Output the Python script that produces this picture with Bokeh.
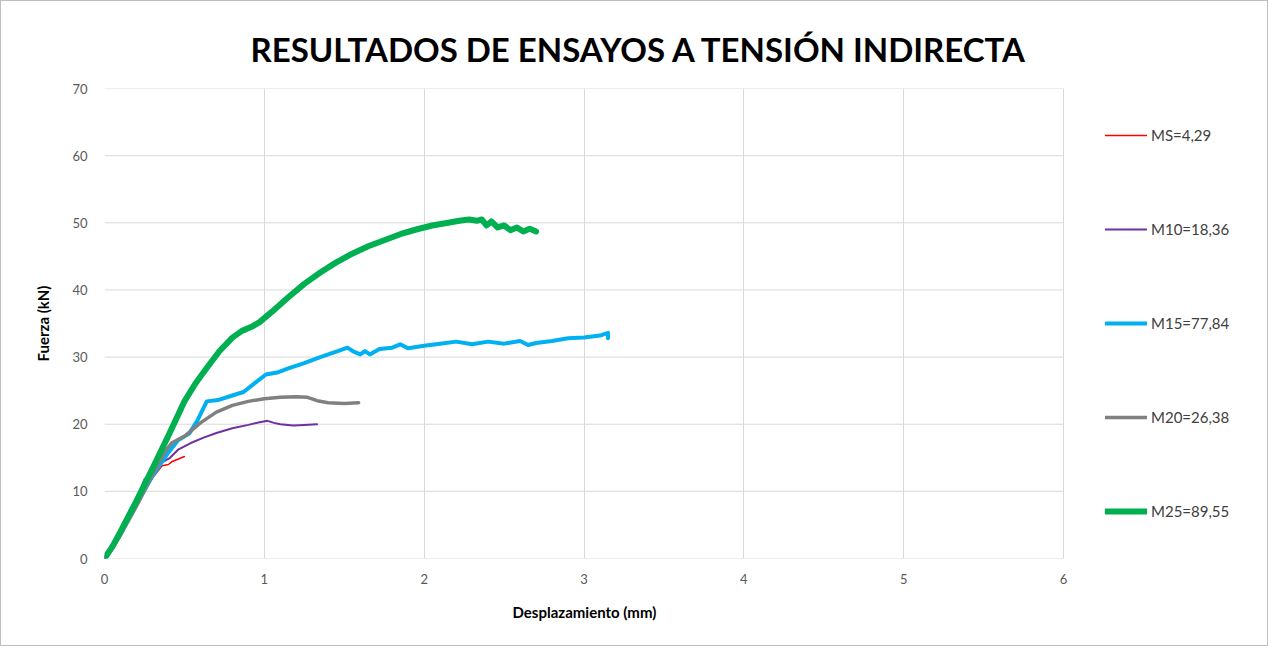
from bokeh.plotting import figure
from bokeh.models import Legend, LegendItem, FixedTicker, Title
from bokeh.embed import file_html
from bokeh.resources import INLINE

title_text = "RESULTADOS DE ENSAYOS A TENSIÓN INDIRECTA"
x_label = "Desplazamiento (mm)"
y_label = "Fuerza (kN)"
x_ticks = [0, 1, 2, 3, 4, 5, 6]
y_ticks = [0, 10, 20, 30, 40, 50, 60, 70]

series_names = ["MS=4,29", "M10=18,36", "M15=77,84", "M20=26,38", "M25=89,55"]

ms_x = [0, 0.05, 0.1, 0.2, 0.3, 0.36, 0.40, 0.42, 0.44, 0.47, 0.50]
ms_y = [0, 1.6, 3.6, 7.9, 12.0, 13.8, 14.0, 14.4, 14.6, 14.9, 15.2]

m10_x = [0, 0.05, 0.1, 0.2, 0.25, 0.3, 0.36, 0.41, 0.46, 0.54, 0.62, 0.7, 0.8, 0.9, 0.97, 1.02, 1.06, 1.1, 1.18, 1.25, 1.33]
m10_y = [0, 1.7, 3.8, 8.6, 11.8, 12.8, 14.3, 15.0, 16.2, 17.2, 18.0, 18.7, 19.4, 19.9, 20.3, 20.5, 20.2, 20.0, 19.8, 19.9, 20.0]

m15_x = [0, 0.05, 0.1, 0.2, 0.3, 0.4, 0.46, 0.53, 0.58, 0.64, 0.71, 0.79, 0.87, 0.95, 1.01, 1.08, 1.15, 1.25, 1.35,
         1.45, 1.52, 1.56, 1.60, 1.63, 1.66, 1.72, 1.80, 1.85, 1.90, 2.0, 2.1, 2.2, 2.3, 2.4, 2.5, 2.6, 2.65, 2.7,
         2.8, 2.9, 3.0, 3.1, 3.15, 3.15]
m15_y = [0, 1.6, 3.6, 8.0, 12.3, 15.8, 17.6, 18.6, 20.5, 23.4, 23.6, 24.2, 24.8, 26.3, 27.4, 27.7, 28.3, 29.1, 30.0,
         30.8, 31.4, 30.8, 30.4, 30.9, 30.4, 31.2, 31.4, 31.9, 31.3, 31.7, 32.0, 32.3, 31.9, 32.3, 32.0, 32.4, 31.8, 32.1,
         32.4, 32.8, 32.9, 33.2, 33.6, 32.8]

m20_x = [0, 0.05, 0.1, 0.2, 0.3, 0.38, 0.42, 0.5, 0.6, 0.7, 0.8, 0.9, 1.0, 1.1, 1.2, 1.27, 1.33, 1.4, 1.5, 1.59]
m20_y = [0, 1.5, 3.5, 7.8, 12.5, 16.0, 17.2, 18.2, 20.2, 21.8, 22.8, 23.4, 23.8, 24.0, 24.1, 24.0, 23.5, 23.2, 23.1, 23.2]

m25_x = [0, 0.05, 0.1, 0.2, 0.3, 0.4, 0.5, 0.57, 0.65, 0.72, 0.8, 0.86, 0.92, 0.97, 1.05, 1.15, 1.25, 1.35, 1.45,
         1.55, 1.65, 1.75, 1.85, 1.95, 2.05, 2.15, 2.22, 2.28, 2.33, 2.36, 2.39, 2.42, 2.46, 2.50, 2.54, 2.58, 2.62,
         2.66, 2.70]
m25_y = [0, 1.8, 4.0, 8.6, 13.4, 18.3, 23.4, 26.1, 28.7, 30.9, 32.9, 33.9, 34.5, 35.2, 36.8, 38.9, 40.9, 42.6, 44.1,
         45.4, 46.5, 47.4, 48.3, 49.0, 49.6, 50.0, 50.3, 50.5, 50.3, 50.5, 49.6, 50.2, 49.3, 49.6, 48.9, 49.3, 48.7,
         49.1, 48.7]

colors = ["#FF0000", "#7030A0", "#00B0F0", "#808080", "#00B050"]
widths = [1.5, 2, 4, 3.5, 6]

FONT = "Lato"

# The data area spans 0..6 mm; the frame is widened to the right to host the legend.
X_MAX = 6
FIG_W, FIG_H = 1268, 646
LEFT, TOP, BOTTOM = 103, 87, 89
DATA_W_PX = 959
frame_w = FIG_W - LEFT
x_end = X_MAX * frame_w / DATA_W_PX

p = figure(width=FIG_W, height=FIG_H, output_backend="svg", toolbar_location=None,
           x_range=(0, x_end), y_range=(0, 70),
           min_border_left=LEFT, min_border_right=0, min_border_top=TOP, min_border_bottom=BOTTOM,
           background_fill_color="white", border_fill_color="white")
p.styles = {"border": "1px solid #bfbfbf"}
p.outline_line_color = None

p.title.text = title_text
p.title.align = "left"
p.title.offset = 146
p.title.text_font = FONT
p.title.text_font_size = "33px"
p.title.text_font_style = "bold"
p.title.text_color = "#000000"
p.title.standoff = 39

# horizontal gridlines limited to the data area (0..6 mm)
p.ygrid.grid_line_color = None
p.segment(x0=[0] * len(y_ticks), x1=[X_MAX] * len(y_ticks), y0=y_ticks, y1=y_ticks,
          line_color="#d9d9d9", line_width=1)

xs = [ms_x, m10_x, m15_x, m20_x, m25_x]
ys = [ms_y, m10_y, m15_y, m20_y, m25_y]
renderers = []
for x, y, c, w in zip(xs, ys, colors, widths):
    r = p.line(x, y, line_color=c, line_width=w, line_join="round", line_cap="round")
    renderers.append(r)

# axes
p.xaxis.ticker = FixedTicker(ticks=x_ticks)
p.yaxis.ticker = FixedTicker(ticks=y_ticks)
for ax in (p.xaxis, p.yaxis):
    ax.major_tick_line_color = None
    ax.minor_tick_line_color = None
    ax.axis_line_color = None
    ax.major_label_text_font = FONT
    ax.major_label_text_font_size = "13px"
    ax.major_label_text_color = "#595959"
    ax.axis_label_text_font = FONT
    ax.axis_label_text_font_size = "15px"
    ax.axis_label_text_font_style = "bold"
    ax.axis_label_text_color = "#000000"
p.yaxis.axis_label = y_label
p.xaxis.major_label_standoff = 9
p.yaxis.major_label_standoff = 11
p.yaxis.axis_label_standoff = 17

# x axis title centred under the data area (0..6 mm)
xt = Title(text=x_label, align="left", offset=408, text_font=FONT, text_font_size="15px",
           text_font_style="bold", text_color="#000000", vertical_align="top", standoff=32)
p.add_layout(xt, "below")

p.xgrid.ticker = FixedTicker(ticks=x_ticks)
p.xgrid.grid_line_color = "#d9d9d9"
p.xgrid.grid_line_width = 1

items = [LegendItem(label=n, renderers=[r]) for n, r in zip(series_names, renderers)]
legend = Legend(items=items, location=(1001, 37), orientation="vertical",
                glyph_width=42, glyph_height=20, label_height=20, spacing=74,
                padding=0, margin=0, border_line_color=None, background_fill_alpha=0,
                label_text_font=FONT, label_text_font_size="15px", label_text_color="#404040",
                label_standoff=4)
p.add_layout(legend, "center")

open("out.html", "w").write(file_html(p, INLINE))
